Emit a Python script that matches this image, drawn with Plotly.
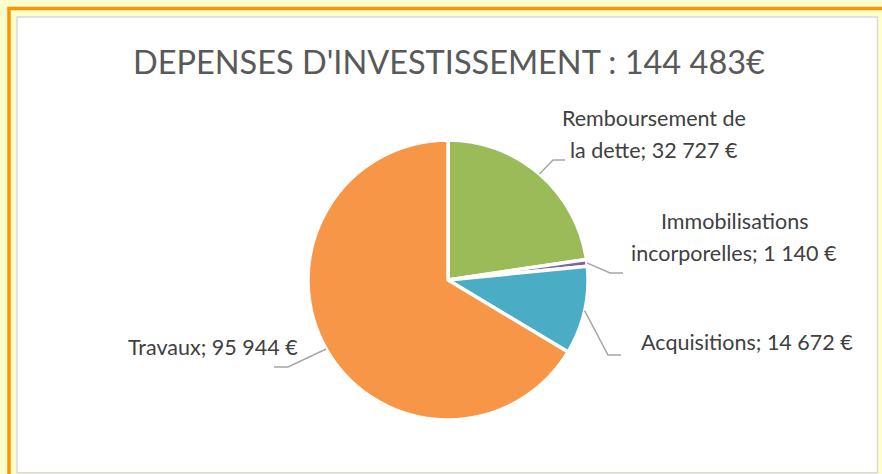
import math
import plotly.graph_objects as go

W, H = 882, 474

categories = ["Remboursement de la dette", "Immobilisations incorporelles", "Acquisitions", "Travaux"]
values = [32727, 1140, 14672, 95944]
colors = ["#9BBB59", "#8064A2", "#4BACC6", "#F79646"]
title_text = "DEPENSES D'INVESTISSEMENT : 144 483€"
# how each label is wrapped on the chart
label_lines = {
    "Remboursement de la dette": ["Remboursement de", "la dette"],
    "Immobilisations incorporelles": ["Immobilisations", "incorporelles"],
    "Acquisitions": ["Acquisitions"],
    "Travaux": ["Travaux"],
}

# layout (pixels)
CX, CY, R = 448, 280, 140
label_pos = [  # centre of last text line, elbow point, end of leader
    dict(x=654, y=150, elbow=(553, 160), end=(565, 160)),
    dict(x=734, y=253, elbow=(610, 273), end=(623, 273)),
    dict(x=747, y=342, elbow=(608, 355), end=(621, 355)),
    dict(x=213, y=347, elbow=(288, 367), end=(274, 367)),
]
LINE_GAP = 32


def px(x):
    return x / W


def py(y):
    return 1 - y / H


def fmt(v):
    return f"{v:,}".replace(",", " ")


fig = go.Figure(go.Pie(
    labels=categories,
    values=values,
    sort=False,
    direction="clockwise",
    rotation=0,
    marker=dict(colors=colors, line=dict(color="white", width=3.5)),
    textinfo="none",
    hoverinfo="label+value",
    showlegend=False,
    domain=dict(x=[px(CX - R), px(CX + R)], y=[py(CY + R), py(CY - R)]),
))

shapes = []
# frame decorations
shapes.append(dict(type="rect", xref="paper", yref="paper",
                   x0=px(9), x1=px(W + 20), y0=py(H + 20), y1=py(8.5),
                   line=dict(color="#FF9400", width=3.5), fillcolor="#FFFFCC", layer="below"))
shapes.append(dict(type="rect", xref="paper", yref="paper",
                   x0=px(17), x1=px(877.5), y0=py(472.8), y1=py(17),
                   line=dict(color="#D9D9D9", width=1.5), fillcolor="white", layer="below"))

annotations = []
total = sum(values)
cum = 0
for i, (cat, v) in enumerate(zip(categories, values)):
    mid = (cum + v / 2) / total * 2 * math.pi
    cum += v
    sx = CX + R * math.sin(mid)
    sy = CY - R * math.cos(mid)
    lp = label_pos[i]
    ex, ey = lp["elbow"]
    fx, fy = lp["end"]
    path = f"M {px(sx)},{py(sy)} L {px(ex)},{py(ey)} L {px(fx)},{py(fy)}"
    shapes.append(dict(type="path", xref="paper", yref="paper", path=path,
                       line=dict(color="#A6A6A6", width=1.5)))
    lines = list(label_lines[cat])
    lines[-1] = f"{lines[-1]}; {fmt(v)} €"
    n = len(lines)
    for k, t in enumerate(lines):
        yy = lp["y"] - (n - 1 - k) * LINE_GAP
        annotations.append(dict(text=t, x=px(lp["x"]), y=py(yy), xref="paper", yref="paper",
                                xanchor="center", yanchor="middle", showarrow=False,
                                font=dict(family="Lato", size=21.5, color="#404040")))

annotations.append(dict(text=title_text, x=px(449), y=py(62), xref="paper", yref="paper",
                        xanchor="center", yanchor="middle", showarrow=False,
                        font=dict(family="Lato", size=32.5, color="#595959")))

fig.update_layout(
    width=W, height=H,
    margin=dict(l=0, r=0, t=0, b=0),
    paper_bgcolor="#FFFFCC",
    plot_bgcolor="white",
    shapes=shapes,
    annotations=annotations,
)

fig.write_html("out.html",
               config={"displayModeBar": False},
               post_script="document.body.style.margin='0';document.body.style.background='#FFFFCC';")
